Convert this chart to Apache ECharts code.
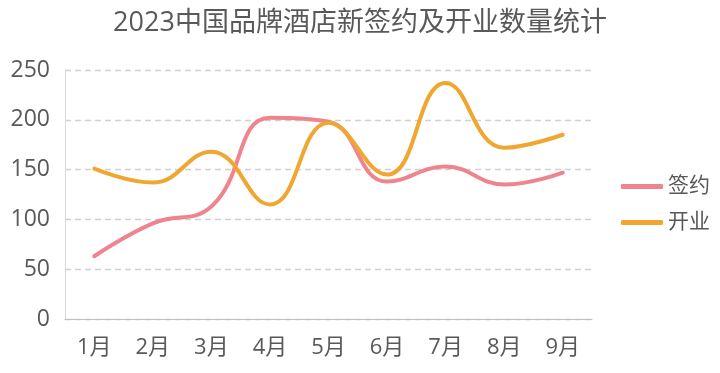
<!DOCTYPE html>
<html><head><meta charset="utf-8">
<script src="https://cdn.jsdelivr.net/npm/echarts@6/dist/echarts.min.js"></script>
<style>html,body{margin:0;padding:0;background:#fff}#c{width:720px;height:373px}</style>
</head><body><div id="c"></div>
<script>
const titleText = '2023中国品牌酒店新签约及开业数量统计';
const categories = ['1月','2月','3月','4月','5月','6月','7月','8月','9月'];
const seriesNames = ['签约','开业'];
const signed = [63, 96, 113, 202, 198, 138, 153, 135, 147];
const opened = [151, 137, 168, 115, 197, 145, 237, 172, 185];
const colors = ['#F0848E', '#F0A732'];
const fontFam = '"Open Sans","Noto Sans CJK SC",sans-serif';
const chart = echarts.init(document.getElementById('c'));
chart.setOption({
  animation: false,
  color: colors,
  title: {text: titleText, left: 'center', top: 5,
    textStyle: {fontSize: 27, fontWeight: 'normal', color: '#595959', fontFamily: fontFam}},
  legend: {orient: 'vertical', left: 616, top: 170, itemGap: 13, itemWidth: 42, itemHeight: 5,
    icon: 'roundRect',
    textStyle: {fontSize: 21, color: '#595959', fontFamily: fontFam, lineHeight: 23},
    data: seriesNames},
  grid: {left: 65, right: 128, top: 70, bottom: 54},
  xAxis: {type: 'category', data: categories, boundaryGap: true,
    axisLine: {lineStyle: {color: '#BFBFBF'}}, axisTick: {show: false},
    axisLabel: {fontSize: 22, color: '#595959', fontFamily: fontFam, margin: 18}},
  yAxis: {type: 'value', min: 0, max: 250, interval: 50,
    axisLine: {show: true, lineStyle: {color: '#D9D9D9'}},
    axisLabel: {fontSize: 23, color: '#595959', fontFamily: fontFam, margin: 15},
    splitLine: {lineStyle: {color: '#D0D0D0', type: [6,4], width: 1.3}}},
  series: [
    {name: seriesNames[0], type: 'line', data: signed, smooth: 0.45, showSymbol: false,
     lineStyle: {width: 4, cap: 'round'}},
    {name: seriesNames[1], type: 'line', data: opened, smooth: 0.45, showSymbol: false,
     lineStyle: {width: 4, cap: 'round'}}
  ]
});
</script></body></html>
